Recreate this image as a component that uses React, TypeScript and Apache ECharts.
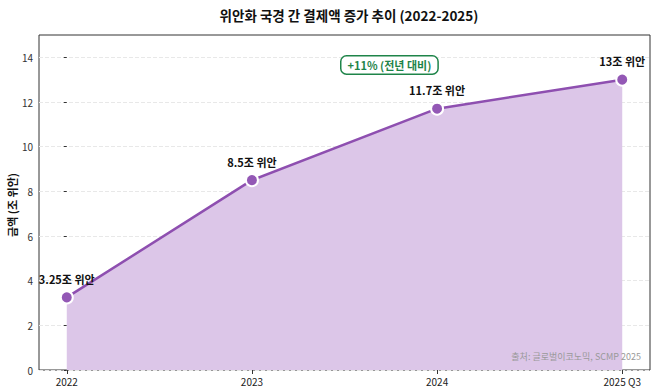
import React, { useEffect, useRef } from "react";
import * as echarts from "echarts";

const categories = ["2022", "2023", "2024", "2025 Q3"];
const categoryPositions = [0, 1, 2, 3];
const values = [3.25, 8.5, 11.7, 13];
const valueLabels = ["3.25조 위안", "8.5조 위안", "11.7조 위안", "13조 위안"];
const yTicks = [0, 2, 4, 6, 8, 10, 12, 14];
const yAxisTitle = "금액 (조 위안)";

const FONT = "'Noto Sans CJK KR', 'Noto Sans', sans-serif";

export default function App() {
  const ref = useRef<HTMLDivElement>(null);
  useEffect(() => {
    if (!ref.current) return;
    const chart = echarts.init(ref.current, null, { renderer: "svg" });
    chart.setOption({
      animation: false,
      textStyle: { fontFamily: FONT },
      title: {
        text: "위안화 국경 간 결제액 증가 추이 (2022-2025)",
        left: 344,
        textAlign: "center",
        top: 3,
        textStyle: { fontSize: 13.5, fontWeight: "bold", color: "#111", fontFamily: FONT },
      },
      grid: {
        left: 39,
        right: 8,
        top: 35,
        bottom: 22,
        show: true,
        borderColor: "#333",
        borderWidth: 1,
        containLabel: false,
        outerBoundsMode: "none",
      },
      xAxis: {
        type: "value",
        min: -0.15,
        max: 3.15,
        axisLine: { show: false },
        axisTick: { show: true, length: 4, customValues: categoryPositions, lineStyle: { color: "#333" } },
        splitLine: { show: false },
        axisLabel: {
          show: true,
          customValues: categoryPositions,
          fontSize: 10,
          color: "#222",
          margin: 6,
          formatter: (v: number) => categories[Math.round(v)] ?? "",
        },
      },
      yAxis: {
        type: "value",
        min: 0,
        max: 15,
        axisLine: { show: false },
        axisTick: { show: true, length: 3, customValues: yTicks, lineStyle: { color: "#333" } },
        axisLabel: {
          fontSize: 10,
          color: "#333",
          margin: 6,
          customValues: yTicks,
        },
        splitLine: { show: true, lineStyle: { color: "#e8e8e8", type: "dashed" } },
      },
      series: [
        {
          type: "line",
          data: values.map((v, i) => [categoryPositions[i], v]),
          symbol: "circle",
          symbolSize: 12,
          lineStyle: { color: "#8e4fb0", width: 2.5 },
          itemStyle: { color: "#9358b5", borderColor: "#fff", borderWidth: 2 },
          areaStyle: { color: "#dcc6e8", opacity: 1 },
          label: {
            show: true,
            position: "top",
            distance: 6,
            fontSize: 11,
            fontWeight: "bold",
            color: "#111",
            fontFamily: FONT,
            formatter: (p: any) => valueLabels[p.dataIndex],
          },
          z: 3,
        },
      ],
      graphic: [
        {
          type: "text",
          x: 12,
          y: 205,
          rotation: Math.PI / 2,
          z: 10,
          style: {
            text: yAxisTitle,
            fontSize: 11,
            fontWeight: "bold",
            fill: "#111",
            fontFamily: FONT,
            align: "center",
            verticalAlign: "middle",
          },
        },
        {
          type: "text",
          left: 340,
          top: 55,
          z: 10,
          style: {
            text: "+11% (전년 대비)",
            fontSize: 11,
            fontWeight: "bold",
            fill: "#1e8449",
            fontFamily: FONT,
            backgroundColor: "#fff",
            borderColor: "#1e8449",
            borderWidth: 1.5,
            borderRadius: 5,
            padding: [3, 6],
          },
        },
        {
          type: "text",
          right: 17,
          top: 352,
          z: 10,
          style: {
            text: "출처: 글로벌이코노믹, SCMP 2025",
            fontSize: 9,
            fill: "#999",
            fontFamily: FONT,
          },
        },
      ],
    });
    return () => chart.dispose();
  }, []);
  return (
    <div
      ref={ref}
      style={{ width: 658, height: 392, position: "absolute", left: 0, top: 0, background: "#fff" }}
    />
  );
}
